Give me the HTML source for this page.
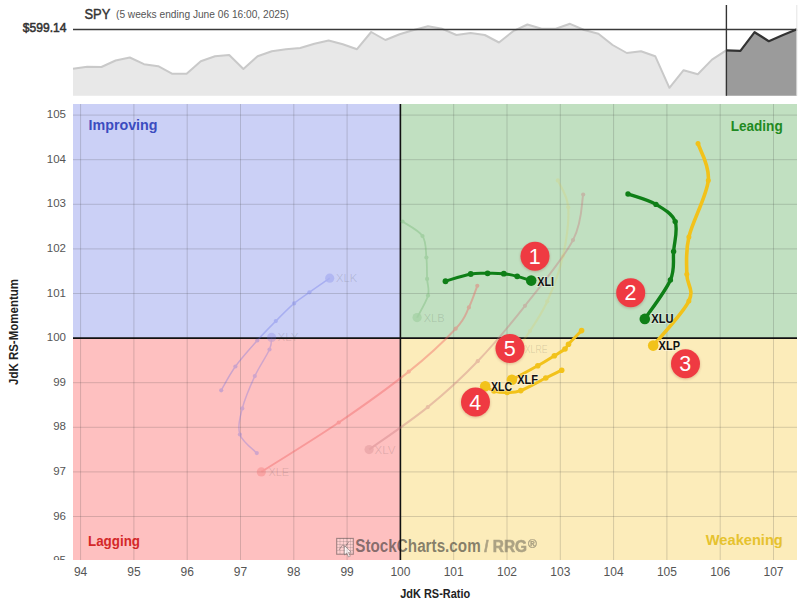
<!DOCTYPE html>
<html><head><meta charset="utf-8"><style>
html,body{margin:0;padding:0;background:#fff;width:800px;height:603px;overflow:hidden}
svg text{font-family:"Liberation Sans",sans-serif}
</style></head><body>
<svg width="800" height="603" viewBox="0 0 800 603" style="position:absolute;left:0;top:0">
<defs><clipPath id="yc"><rect x="0" y="540" width="80" height="20"/></clipPath><filter id="bl" x="-50%" y="-50%" width="200%" height="200%"><feGaussianBlur stdDeviation="1.2"/></filter></defs>
<polygon points="73.0,95.8 73.0,68.8 87.2,66.8 101.4,67.0 115.6,60.5 129.8,57.5 144.0,64.2 158.2,66.2 172.4,73.8 186.6,73.8 200.8,61.2 215.0,56.2 229.2,55.0 243.4,69.0 257.6,56.2 271.8,51.2 286.0,49.2 300.2,48.0 314.4,43.8 328.6,40.5 342.8,44.2 357.0,49.2 371.2,32.0 385.4,40.0 399.6,34.2 413.8,30.0 428.0,26.2 442.2,28.8 456.4,35.0 470.6,33.0 484.8,35.0 499.0,42.5 513.2,31.2 527.4,24.5 541.6,28.8 555.8,28.8 570.0,23.8 584.2,30.0 598.4,33.8 612.6,45.0 626.8,53.0 641.0,51.2 655.2,56.2 669.4,87.8 683.6,70.2 697.8,74.2 712.0,59.6 726.2,50.3 726.2,95.8" fill="#e8e8e8"/><polyline points="73.0,68.8 87.2,66.8 101.4,67.0 115.6,60.5 129.8,57.5 144.0,64.2 158.2,66.2 172.4,73.8 186.6,73.8 200.8,61.2 215.0,56.2 229.2,55.0 243.4,69.0 257.6,56.2 271.8,51.2 286.0,49.2 300.2,48.0 314.4,43.8 328.6,40.5 342.8,44.2 357.0,49.2 371.2,32.0 385.4,40.0 399.6,34.2 413.8,30.0 428.0,26.2 442.2,28.8 456.4,35.0 470.6,33.0 484.8,35.0 499.0,42.5 513.2,31.2 527.4,24.5 541.6,28.8 555.8,28.8 570.0,23.8 584.2,30.0 598.4,33.8 612.6,45.0 626.8,53.0 641.0,51.2 655.2,56.2 669.4,87.8 683.6,70.2 697.8,74.2 712.0,59.6 726.2,50.3" fill="none" stroke="#c9c9c9" stroke-width="2" stroke-linejoin="round"/><polygon points="726.2,95.8 726.2,50.3 740.4,50.8 754.6,32.2 768.8,41.2 783.0,34.9 797.0,29.3 797.0,95.8" fill="#9b9b9b"/><line x1="73" y1="29.5" x2="797" y2="29.5" stroke="#3a3a3a" stroke-width="1.6"/><polyline points="726.2,50.3 740.4,50.8 754.6,32.2 768.8,41.2 783.0,34.9 797.0,29.3" fill="none" stroke="#333" stroke-width="2.2" stroke-linejoin="round"/><line x1="726.4" y1="5" x2="726.4" y2="95.8" stroke="#333" stroke-width="1.4"/><line x1="796.8" y1="5" x2="796.8" y2="95.8" stroke="#e4e4e4" stroke-width="1"/>
<text x="84.5" y="18.8" font-size="15" fill="#333" stroke="#333" stroke-width="0.45" textLength="25.8" lengthAdjust="spacingAndGlyphs">SPY</text>
<text x="116" y="17.8" font-size="11.5" fill="#555" textLength="173" lengthAdjust="spacingAndGlyphs">(5 weeks ending June 06 16:00, 2025)</text>
<text x="22.8" y="32.4" font-size="13.2" fill="#333" stroke="#333" stroke-width="0.55" textLength="43.6" lengthAdjust="spacingAndGlyphs">$599.14</text>
<rect x="73" y="104" width="327.4" height="234.10000000000002" fill="#cbd0f6"/><rect x="400.4" y="104" width="396.6" height="234.10000000000002" fill="#c1e0c1"/><rect x="73" y="338.1" width="327.4" height="221.89999999999998" fill="#fec0c0"/><rect x="400.4" y="338.1" width="396.6" height="221.89999999999998" fill="#fcecba"/>
<g>
<rect x="336.7" y="538.4" width="16.6" height="15.8" fill="rgba(255,255,255,0.25)" stroke="rgba(45,45,45,0.45)" stroke-width="1.1"/>
<path d="M337 541.5h16M337 544.5h16M337 547.5h16M337 550.5h16M340 538.5v15.5M343.5 538.5v15.5M347 538.5v15.5M350.5 538.5v15.5" stroke="rgba(45,45,45,0.22)" stroke-width="0.7"/>
<path d="M339 550 L342.5 545 L345 547 L349 541.5" fill="none" stroke="rgba(45,45,45,0.4)" stroke-width="0.9"/>
<path d="M344.5 545.5 L344.5 555 L346.6 553 L348.6 557 L350.3 556.2 L348.4 552.4 L351.2 552.2 Z" fill="rgba(255,255,255,0.8)" stroke="rgba(45,45,45,0.45)" stroke-width="0.7"/>
<text x="355.3" y="552.3" font-size="17.5" font-weight="bold" fill="#2d2d2d" fill-opacity="0.58" textLength="125.4" lengthAdjust="spacingAndGlyphs">StockCharts.com</text>
<g opacity="0.38" fill="#2d2d2d"><text x="484.3" y="552.3" font-size="15.8" font-weight="bold" stroke="#2d2d2d" stroke-width="0.6" textLength="42.8" lengthAdjust="spacingAndGlyphs">/ RRG</text>
<text x="528" y="547.5" font-size="12" font-weight="bold" stroke="#2d2d2d" stroke-width="0.4">®</text></g>
</g>
<g stroke="rgba(60,60,62,0.2)" stroke-width="1"><line x1="80.60" y1="104" x2="80.60" y2="560"/><line x1="133.90" y1="104" x2="133.90" y2="560"/><line x1="187.20" y1="104" x2="187.20" y2="560"/><line x1="240.50" y1="104" x2="240.50" y2="560"/><line x1="293.80" y1="104" x2="293.80" y2="560"/><line x1="347.10" y1="104" x2="347.10" y2="560"/><line x1="453.70" y1="104" x2="453.70" y2="560"/><line x1="507.00" y1="104" x2="507.00" y2="560"/><line x1="560.30" y1="104" x2="560.30" y2="560"/><line x1="613.60" y1="104" x2="613.60" y2="560"/><line x1="666.90" y1="104" x2="666.90" y2="560"/><line x1="720.20" y1="104" x2="720.20" y2="560"/><line x1="773.50" y1="104" x2="773.50" y2="560"/><line x1="73" y1="516.50" x2="797" y2="516.50"/><line x1="73" y1="471.90" x2="797" y2="471.90"/><line x1="73" y1="427.30" x2="797" y2="427.30"/><line x1="73" y1="382.70" x2="797" y2="382.70"/><line x1="73" y1="293.50" x2="797" y2="293.50"/><line x1="73" y1="248.90" x2="797" y2="248.90"/><line x1="73" y1="204.30" x2="797" y2="204.30"/><line x1="73" y1="159.70" x2="797" y2="159.70"/><line x1="73" y1="115.10" x2="797" y2="115.10"/></g>
<line x1="400.4" y1="104" x2="400.4" y2="560" stroke="#111" stroke-width="1.6"/><line x1="73" y1="338.1" x2="797" y2="338.1" stroke="#111" stroke-width="1.6"/>
<text x="88.5" y="129.9" font-size="14" font-weight="bold" fill="#3b4cc0" textLength="69" lengthAdjust="spacingAndGlyphs">Improving</text>
<text x="730.7" y="130.6" font-size="15" font-weight="bold" fill="#1f8a22" textLength="52" lengthAdjust="spacingAndGlyphs">Leading</text>
<text x="88" y="545.5" font-size="14" font-weight="bold" fill="#d42828" textLength="52" lengthAdjust="spacingAndGlyphs">Lagging</text>
<text x="705.8" y="544.8" font-size="14" font-weight="bold" fill="#e6c22e" textLength="77" lengthAdjust="spacingAndGlyphs">Weakening</text>
<g font-size="12" fill="#555"><text x="80.6" y="575.5" text-anchor="middle">94</text><text x="133.9" y="575.5" text-anchor="middle">95</text><text x="187.2" y="575.5" text-anchor="middle">96</text><text x="240.5" y="575.5" text-anchor="middle">97</text><text x="293.8" y="575.5" text-anchor="middle">98</text><text x="347.1" y="575.5" text-anchor="middle">99</text><text x="400.4" y="575.5" text-anchor="middle">100</text><text x="453.7" y="575.5" text-anchor="middle">101</text><text x="507.0" y="575.5" text-anchor="middle">102</text><text x="560.3" y="575.5" text-anchor="middle">103</text><text x="613.6" y="575.5" text-anchor="middle">104</text><text x="666.9" y="575.5" text-anchor="middle">105</text><text x="720.2" y="575.5" text-anchor="middle">106</text><text x="773.5" y="575.5" text-anchor="middle">107</text><text x="66" y="564.1" text-anchor="end" font-size="11.5" clip-path="url(#yc)">95</text><text x="66" y="519.5" text-anchor="end" font-size="11.5">96</text><text x="66" y="474.9" text-anchor="end" font-size="11.5">97</text><text x="66" y="430.3" text-anchor="end" font-size="11.5">98</text><text x="66" y="385.7" text-anchor="end" font-size="11.5">99</text><text x="66" y="341.1" text-anchor="end" font-size="11.5">100</text><text x="66" y="296.5" text-anchor="end" font-size="11.5">101</text><text x="66" y="251.9" text-anchor="end" font-size="11.5">102</text><text x="66" y="207.3" text-anchor="end" font-size="11.5">103</text><text x="66" y="162.7" text-anchor="end" font-size="11.5">104</text><text x="66" y="118.1" text-anchor="end" font-size="11.5">105</text></g>
<g opacity="0.3"><path d="M221.2,390.3 C223.6,386.3 229.4,374.8 235.4,366.5 C241.4,358.2 250.6,348.1 257.3,340.5 C264.0,332.9 269.7,327.3 275.8,321.1 C281.9,314.9 288.5,308.2 294.1,303.4 C299.7,298.6 303.5,296.5 309.4,292.3 C315.3,288.1 326.3,280.6 329.7,278.2" fill="none" stroke="#5a64e6" stroke-width="1.5"/><circle cx="221.2" cy="390.3" r="2.1" fill="#5a64e6"/><circle cx="235.4" cy="366.5" r="2.1" fill="#5a64e6"/><circle cx="257.3" cy="340.5" r="2.1" fill="#5a64e6"/><circle cx="275.8" cy="321.1" r="2.1" fill="#5a64e6"/><circle cx="294.1" cy="303.4" r="2.1" fill="#5a64e6"/><circle cx="309.4" cy="292.3" r="2.1" fill="#5a64e6"/><circle cx="329.7" cy="278.2" r="4.6" fill="#5a64e6" opacity="0.75"/></g><g opacity="0.3"><path d="M256.8,453.1 C254.0,450.0 242.3,441.9 239.9,434.5 C237.5,427.1 239.8,418.1 242.3,408.4 C244.8,398.7 250.3,385.9 254.8,376.1 C259.3,366.3 266.7,355.9 269.5,349.5 C272.3,343.1 271.2,339.4 271.6,337.4" fill="none" stroke="#6a6ae6" stroke-width="1.5"/><circle cx="256.8" cy="453.1" r="2.1" fill="#6a6ae6"/><circle cx="239.9" cy="434.5" r="2.1" fill="#6a6ae6"/><circle cx="242.3" cy="408.4" r="2.1" fill="#6a6ae6"/><circle cx="254.8" cy="376.1" r="2.1" fill="#6a6ae6"/><circle cx="269.5" cy="349.5" r="2.1" fill="#6a6ae6"/><circle cx="271.6" cy="337.4" r="4.6" fill="#6a6ae6" opacity="0.75"/></g><g opacity="0.4"><path d="M477.3,285.8 C475.9,289.4 472.5,300.2 468.9,307.4 C465.3,314.5 465.7,318.0 455.7,328.7 C445.7,339.4 428.3,356.0 408.8,371.6 C389.3,387.2 363.3,405.8 338.8,422.5 C314.2,439.2 274.2,463.7 261.3,471.9" fill="none" stroke="#f06060" stroke-width="2.0"/><circle cx="477.3" cy="285.8" r="2.1" fill="#f06060"/><circle cx="468.9" cy="307.4" r="2.1" fill="#f06060"/><circle cx="455.7" cy="328.7" r="2.1" fill="#f06060"/><circle cx="408.8" cy="371.6" r="2.1" fill="#f06060"/><circle cx="338.75" cy="422.5" r="2.1" fill="#f06060"/><circle cx="261.3" cy="471.9" r="4.6" fill="#f06060" opacity="0.75"/></g><g opacity="0.38"><path d="M583.2,194.5 C581.5,202.1 582.7,221.5 573.0,240.1 C563.3,258.6 540.9,285.6 525.0,305.8 C509.1,326.0 493.9,344.3 477.7,361.2 C461.5,378.1 445.9,392.4 427.8,407.1 C409.7,421.8 378.9,442.5 369.1,449.6" fill="none" stroke="#c8787e" stroke-width="2.0"/><circle cx="583.2" cy="194.5" r="2.1" fill="#c8787e"/><circle cx="573.0" cy="240.1" r="2.1" fill="#c8787e"/><circle cx="525.0" cy="305.8" r="2.1" fill="#c8787e"/><circle cx="477.7" cy="361.2" r="2.1" fill="#c8787e"/><circle cx="427.8" cy="407.1" r="2.1" fill="#c8787e"/><circle cx="369.1" cy="449.6" r="4.6" fill="#c8787e" opacity="0.75"/></g><g opacity="0.28"><path d="M402.5,221.5 C405.8,223.9 418.5,230.0 422.5,236.0 C426.5,242.0 425.6,250.3 426.4,257.5 C427.2,264.6 426.8,272.5 427.1,278.9 C427.4,285.2 429.7,289.2 428.0,295.6 C426.3,302.1 418.9,313.9 417.1,317.6" fill="none" stroke="#58a858" stroke-width="1.8"/><circle cx="402.5" cy="221.5" r="2.1" fill="#58a858"/><circle cx="422.5" cy="236" r="2.1" fill="#58a858"/><circle cx="426.4" cy="257.5" r="2.1" fill="#58a858"/><circle cx="427.1" cy="278.9" r="2.1" fill="#58a858"/><circle cx="428" cy="295.6" r="2.1" fill="#58a858"/><circle cx="417.1" cy="317.6" r="4.6" fill="#58a858" opacity="0.75"/></g><g opacity="0.18"><path d="M557.8,180.4 C559.5,184.9 567.3,194.7 568.2,207.3 C569.1,219.9 566.5,240.3 563.0,256.0 C559.5,271.7 552.8,288.8 547.3,301.3 C541.8,313.8 535.0,323.1 530.0,331.0 C525.0,338.9 519.2,345.6 517.0,348.5" fill="none" stroke="#e8c840" stroke-width="2.2"/><circle cx="557.8" cy="180.4" r="2.1" fill="#e8c840"/><circle cx="568.2" cy="207.3" r="2.1" fill="#e8c840"/><circle cx="563" cy="256" r="2.1" fill="#e8c840"/><circle cx="547.3" cy="301.3" r="2.1" fill="#e8c840"/><circle cx="530" cy="331" r="2.1" fill="#e8c840"/><circle cx="517" cy="348.5" r="4.6" fill="#e8c840" opacity="0.75"/></g>
<g font-size="11" fill="rgba(40,40,40,0.14)"><text x="336" y="282" textLength="21.2" lengthAdjust="spacingAndGlyphs">XLK</text><text x="277.5" y="340.5" textLength="21" lengthAdjust="spacingAndGlyphs">XLY</text><text x="268.5" y="476" textLength="20.5" lengthAdjust="spacingAndGlyphs">XLE</text><text x="374.5" y="453.5" textLength="21" lengthAdjust="spacingAndGlyphs">XLV</text><text x="423.7" y="322" textLength="21" lengthAdjust="spacingAndGlyphs">XLB</text><text x="524.8" y="352.5" textLength="22.8" lengthAdjust="spacingAndGlyphs">XLRE</text></g>
<path d="M445.5,281.2 C449.7,280.0 463.7,275.3 470.8,274.0 C477.8,272.7 482.1,273.4 487.6,273.3 C493.1,273.2 498.9,273.2 503.8,273.7 C508.7,274.2 512.6,275.1 517.2,276.3 C521.8,277.5 528.9,279.9 531.2,280.6" fill="none" stroke="#0f7f17" stroke-width="2.9" stroke-linejoin="round" stroke-linecap="round"/><circle cx="445.5" cy="281.25" r="2.9" fill="#0f7f17"/><circle cx="470.75" cy="274" r="2.9" fill="#0f7f17"/><circle cx="487.6" cy="273.3" r="2.9" fill="#0f7f17"/><circle cx="503.8" cy="273.7" r="2.9" fill="#0f7f17"/><circle cx="517.2" cy="276.3" r="2.9" fill="#0f7f17"/><circle cx="531.2" cy="280.6" r="5.3" fill="#0f7f17"/><path d="M628.0,194.0 C632.7,195.7 648.1,199.8 656.0,204.4 C663.9,209.0 672.3,213.8 675.2,221.6 C678.1,229.4 674.4,241.7 673.6,251.4 C672.8,261.1 675.2,268.8 670.4,280.0 C665.6,291.2 649.1,312.4 644.8,318.9" fill="none" stroke="#0f7f17" stroke-width="3.4" stroke-linejoin="round" stroke-linecap="round"/><circle cx="628" cy="194" r="2.7" fill="#0f7f17"/><circle cx="656" cy="204.4" r="2.7" fill="#0f7f17"/><circle cx="675.2" cy="221.6" r="2.7" fill="#0f7f17"/><circle cx="673.6" cy="251.4" r="2.7" fill="#0f7f17"/><circle cx="670.4" cy="280" r="2.7" fill="#0f7f17"/><circle cx="644.8" cy="318.9" r="5.3" fill="#0f7f17"/><path d="M698.0,143.6 C699.7,149.7 709.8,164.8 708.3,180.4 C706.8,196.0 692.5,221.2 688.9,236.9 C685.3,252.6 686.8,263.6 686.8,274.3 C686.8,285.0 694.5,289.1 688.9,301.0 C683.3,312.9 659.2,338.2 653.2,345.6" fill="none" stroke="#f2c21a" stroke-width="3.6" stroke-linejoin="round" stroke-linecap="round"/><circle cx="698" cy="143.6" r="2.5" fill="#f2c21a"/><circle cx="708.3" cy="180.4" r="2.5" fill="#f2c21a"/><circle cx="688.9" cy="236.9" r="2.5" fill="#f2c21a"/><circle cx="686.8" cy="274.3" r="2.5" fill="#f2c21a"/><circle cx="688.9" cy="301" r="2.5" fill="#f2c21a"/><circle cx="653.2" cy="345.6" r="5.3" fill="#f2c21a"/><path d="M581.6,330.6 C579.4,332.9 571.3,341.1 568.5,344.2 C565.7,347.3 567.4,347.1 565.0,349.0 C562.6,350.9 558.9,353.0 554.4,355.8 C549.9,358.6 544.9,361.8 537.8,365.8 C530.7,369.8 516.2,377.4 511.9,379.7" fill="none" stroke="#f2c21a" stroke-width="3.0" stroke-linejoin="round" stroke-linecap="round"/><circle cx="581.6" cy="330.6" r="2.8" fill="#f2c21a"/><circle cx="568.5" cy="344.2" r="2.8" fill="#f2c21a"/><circle cx="565" cy="349" r="2.8" fill="#f2c21a"/><circle cx="554.4" cy="355.8" r="2.8" fill="#f2c21a"/><circle cx="537.8" cy="365.8" r="2.8" fill="#f2c21a"/><circle cx="511.9" cy="379.7" r="5.3" fill="#f2c21a"/><path d="M561.7,370.2 C559.1,371.5 552.6,374.6 545.8,378.0 C539.0,381.4 527.2,388.2 520.8,390.6 C514.4,393.0 511.7,392.4 507.2,392.5 C502.7,392.6 497.7,392.1 494.0,391.0 C490.3,389.9 486.7,387.0 485.2,386.2" fill="none" stroke="#f2c21a" stroke-width="3.0" stroke-linejoin="round" stroke-linecap="round"/><circle cx="561.7" cy="370.2" r="2.8" fill="#f2c21a"/><circle cx="545.8" cy="378" r="2.8" fill="#f2c21a"/><circle cx="520.8" cy="390.6" r="2.8" fill="#f2c21a"/><circle cx="507.2" cy="392.5" r="2.8" fill="#f2c21a"/><circle cx="494" cy="391" r="2.8" fill="#f2c21a"/><circle cx="485.2" cy="386.2" r="5.3" fill="#f2c21a"/>
<g font-size="12.6" font-weight="bold" fill="#111" stroke="rgba(255,255,255,0.3)" stroke-width="2" paint-order="stroke"><text x="537.3" y="285.5" textLength="16.8" lengthAdjust="spacingAndGlyphs">XLI</text><text x="651.3" y="323.3" textLength="22.2" lengthAdjust="spacingAndGlyphs">XLU</text><text x="658.6" y="350.3" textLength="21.4" lengthAdjust="spacingAndGlyphs">XLP</text><text x="517.2" y="384.3" textLength="20.8" lengthAdjust="spacingAndGlyphs">XLF</text><text x="490.9" y="391.3" textLength="21.2" lengthAdjust="spacingAndGlyphs">XLC</text></g>
<circle cx="535" cy="257.2" r="15" fill="rgba(120,0,0,0.18)" filter="url(#bl)"/><circle cx="535" cy="256.2" r="14.5" fill="#ef3a42"/><text x="534.7" y="263.7" text-anchor="middle" font-size="21.5" fill="#fff">1</text><circle cx="630.7" cy="293.8" r="15" fill="rgba(120,0,0,0.18)" filter="url(#bl)"/><circle cx="630.7" cy="292.8" r="14.5" fill="#ef3a42"/><text x="630.4000000000001" y="300.3" text-anchor="middle" font-size="21.5" fill="#fff">2</text><circle cx="685.5" cy="364.7" r="15" fill="rgba(120,0,0,0.18)" filter="url(#bl)"/><circle cx="685.5" cy="363.7" r="14.5" fill="#ef3a42"/><text x="685.2" y="371.2" text-anchor="middle" font-size="21.5" fill="#fff">3</text><circle cx="475.5" cy="403" r="15" fill="rgba(120,0,0,0.18)" filter="url(#bl)"/><circle cx="475.5" cy="402" r="14.5" fill="#ef3a42"/><text x="475.2" y="409.5" text-anchor="middle" font-size="21.5" fill="#fff">4</text><circle cx="510" cy="349.5" r="15" fill="rgba(120,0,0,0.18)" filter="url(#bl)"/><circle cx="510" cy="348.5" r="14.5" fill="#ef3a42"/><text x="509.7" y="356.0" text-anchor="middle" font-size="21.5" fill="#fff">5</text>
<text x="400.2" y="597.7" font-size="12.4" font-weight="bold" fill="#222" textLength="70" lengthAdjust="spacingAndGlyphs">JdK RS-Ratio</text>
<text transform="translate(17.6,385) rotate(-90)" font-size="12.4" font-weight="bold" fill="#222" textLength="106" lengthAdjust="spacingAndGlyphs">JdK RS-Momentum</text>
</svg>
</body></html>
